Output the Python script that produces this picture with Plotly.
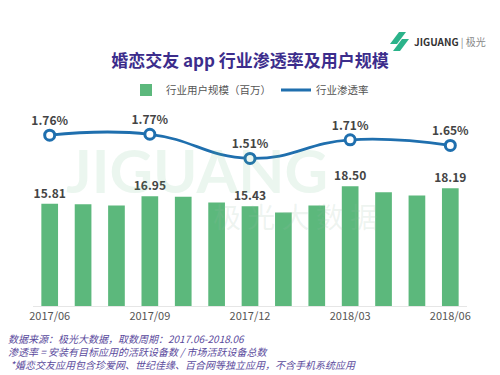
import plotly.graph_objects as go

months = ["2017/06", "2017/07", "2017/08", "2017/09", "2017/10", "2017/11", "2017/12",
          "2018/01", "2018/02", "2018/03", "2018/04", "2018/05", "2018/06"]
users = [15.81, 15.72, 15.55, 16.95, 16.90, 16.00, 15.43, 14.45, 15.55, 18.50, 17.60, 17.10, 18.19]
rate_months = ["2017/06", "2017/09", "2017/12", "2018/03", "2018/06"]
rates = [1.76, 1.77, 1.51, 1.71, 1.65]
tick_labels = ["2017/06", "2017/09", "2017/12", "2018/03", "2018/06"]

FONT = "Noto Sans CJK SC"
BLUE = "#1f6fae"
bar_text = [f"<b>{v:.2f}</b>" if m in tick_labels else "" for m, v in zip(months, users)]

W, H = 500, 375
ml, mr, mt, mb = 33, 33, 99, 69
pw, ph = W - ml - mr, H - mt - mb
def px(x): return (x - ml) / pw
def py(y): return (H - mb - y) / ph

fig = go.Figure()
fig.add_trace(go.Bar(
    x=months, y=users, name="行业用户规模（百万）",
    marker=dict(color="#5cb87c", line=dict(width=0)),
    width=0.5,
    text=bar_text, textposition="outside", cliponaxis=False, constraintext="none",
    textfont=dict(family=FONT, size=12, color="#444444"),
))
fig.add_trace(go.Scatter(
    x=rate_months, y=rates, name="行业渗透率", yaxis="y2", showlegend=False,
    mode="lines+markers+text",
    line=dict(color=BLUE, width=2.8, shape="spline", smoothing=1.3),
    marker=dict(size=10, color="white", line=dict(color=BLUE, width=3)),
    text=[f"<b>{v:.2f}%</b>" for v in rates], textposition="top center",
    textfont=dict(family=FONT, size=12, color="#444444"),
    cliponaxis=False,
))
# legend-only entry for the line (no marker in the legend symbol)
fig.add_trace(go.Scatter(
    x=[None], y=[None], name="行业渗透率", yaxis="y2", mode="lines",
    line=dict(color=BLUE, width=2.8),
))

annotations = [
    dict(text="<b>JIGUANG</b>", x=px(330), y=py(170), xref="paper", yref="paper", showarrow=False,
         font=dict(family="Lato", size=60, color="rgba(92,184,124,0.12)")),
    dict(text="极 光 大 数 据", x=px(380), y=py(216), xref="paper", yref="paper", showarrow=False,
         font=dict(family=FONT, size=28, color="rgba(150,190,165,0.16)")),
    dict(text="<b>JIGUANG</b> <span style='color:#888'>| 极光</span>", x=px(412), y=py(41),
         xref="paper", yref="paper", xanchor="left", yanchor="middle", showarrow=False,
         font=dict(family=FONT, size=10, color="#333333")),
    dict(text="<i>数据来源：极光大数据，取数周期：2017.06-2018.06</i><br>"
              "<i>渗透率 = 安装有目标应用的活跃设备数 / 市场活跃设备总数</i><br>"
              "<i> *婚恋交友应用包含珍爱网、世纪佳缘、百合网等独立应用，不含手机系统应用</i>",
         x=px(6), y=py(351), xref="paper", yref="paper", showarrow=False, align="left",
         xanchor="left", yanchor="middle",
         font=dict(family=FONT, size=10, color="#5a4a9c")),
]

shapes = [
    dict(type="path", xref="paper", yref="paper",
         path=f"M {px(390)},{py(44)} L {px(399)},{py(32)} L {px(406)},{py(32)} L {px(397)},{py(44)} Z",
         fillcolor="#2bb38a", line=dict(width=0)),
    dict(type="path", xref="paper", yref="paper",
         path=f"M {px(400)},{py(51)} L {px(409)},{py(39)} L {px(402)},{py(39)} L {px(393)},{py(51)} Z",
         fillcolor="#2bb38a", line=dict(width=0)),
]

fig.update_layout(
    width=W, height=H,
    margin=dict(l=ml, r=mr, t=mt, b=mb),
    paper_bgcolor="white", plot_bgcolor="white",
    font=dict(family=FONT, color="#555555"),
    title=dict(text="<b>婚恋交友 app 行业渗透率及用户规模</b>", x=0.5, xanchor="center",
               y=1 - 61 / H, yanchor="middle",
               font=dict(family=FONT, size=17, color="#3c2d8c")),
    legend=dict(orientation="h", x=0.5, xanchor="center", y=py(90), yanchor="middle",
                font=dict(family=FONT, size=10.5, color="#555555"),
                itemwidth=30, bgcolor="rgba(0,0,0,0)"),
    xaxis=dict(type="category", categoryorder="array", categoryarray=months,
               tickmode="array", tickvals=tick_labels, ticktext=tick_labels,
               showgrid=False, showline=True, linecolor="#e6e6e6", linewidth=1,
               ticks="", tickfont=dict(family=FONT, size=11, color="#555555"),
               range=[-0.5, 12.5]),
    yaxis=dict(range=[0, 32], visible=False, showgrid=False),
    yaxis2=dict(range=[-0.08, 2.15], overlaying="y", side="right", visible=False, showgrid=False),
    bargap=0.5,
    annotations=annotations,
    shapes=shapes,
)

fig.write_html("out.html", config={"displayModeBar": False},
               post_script="document.body.style.margin='0';document.body.style.overflow='hidden';")
